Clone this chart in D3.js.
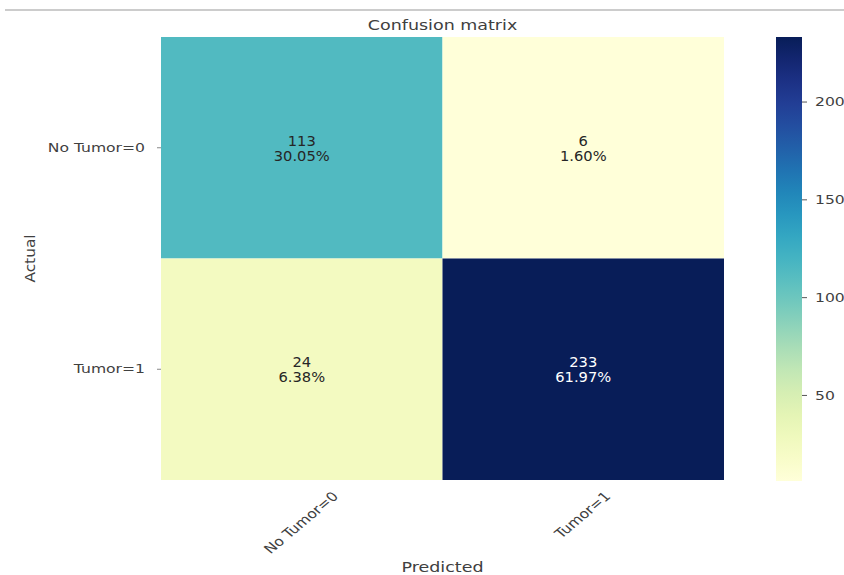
<!DOCTYPE html>
<html>
<head>
<meta charset="utf-8">
<script src="https://cdn.jsdelivr.net/npm/d3@7"></script>
<style>
  body { margin: 0; background: #fff; }
  svg { display: block; font-family: "DejaVu Sans", sans-serif; }
</style>
</head>
<body>
<div id="chart"></div>
<script>
const actualLabels = ["No Tumor=0", "Tumor=1"];
const predictedLabels = ["No Tumor=0", "Tumor=1"];
// rows = actual, cols = predicted
const counts = [
    [113, 6],
    [24, 233]
];
const percents = [
    ["30.05%", "1.60%"],
    ["6.38%", "61.97%"]
];
const colorbarTicks = [50, 100, 150, 200];

const W = 844, H = 575;
const plot = { left: 161, top: 37, right: 724, bottom: 480 };
const bar = { left: 776, right: 802, top: 37, bottom: 481 };
const stretch = 1.2; // the source picture is widened horizontally
const labelColor = "#404040";

const svg = d3.select("#chart").append("svg")
    .attr("width", W)
    .attr("height", H);

// thin line at top of screenshot
svg.append("line")
    .attr("x1", 5).attr("x2", W)
    .attr("y1", 10).attr("y2", 10)
    .attr("stroke", "#9a9a9a")
    .attr("stroke-width", 1.2);

const flat = counts.flat();
const vmin = d3.min(flat), vmax = d3.max(flat);
const color = d3.scaleSequential(d3.interpolateYlGnBu).domain([vmin, vmax]);

const x = d3.scaleBand().domain(predictedLabels).range([plot.left, plot.right]);
const y = d3.scaleBand().domain(actualLabels).range([plot.top, plot.bottom]);

const cells = [];
actualLabels.forEach((a, i) => {
    predictedLabels.forEach((p, j) => {
        cells.push({ a, p, v: counts[i][j], pct: percents[i][j] });
    });
});

svg.append("g").selectAll("rect")
    .data(cells)
    .enter().append("rect")
    .attr("x", d => x(d.p))
    .attr("y", d => y(d.a))
    .attr("width", x.bandwidth())
    .attr("height", y.bandwidth())
    .attr("fill", d => color(d.v));

const annot = svg.append("g").selectAll("text")
    .data(cells)
    .enter().append("text")
    .attr("text-anchor", "middle")
    .attr("font-size", 14)
    .attr("fill", d => (d.v - vmin) / (vmax - vmin) > 0.5 ? "#ffffff" : "#262626")
    .attr("transform", d => `translate(${x(d.p) + x.bandwidth() / 2},${y(d.a) + y.bandwidth() / 2}) scale(1.05,1)`);
annot.append("tspan").attr("x", 0).attr("y", -2).text(d => d.v);
annot.append("tspan").attr("x", 0).attr("y", 13).text(d => d.pct);

// y axis
const yAxis = svg.append("g")
    .attr("transform", `translate(${plot.left},0)`)
    .call(d3.axisLeft(y).tickSize(4).tickPadding(12));
yAxis.select(".domain").remove();
yAxis.selectAll("line").attr("stroke", "#888");
yAxis.selectAll(".tick text")
    .attr("font-size", 13)
    .attr("font-family", "DejaVu Sans, sans-serif")
    .attr("fill", labelColor)
    .attr("transform", function () {
        const tx = +d3.select(this).attr("x");
        return `translate(${tx},0) scale(${stretch},1)`;
    })
    .attr("x", 0);

// x axis labels, rotated and centred under each column
const xLab = svg.append("g").selectAll("text")
    .data(predictedLabels)
    .enter().append("text")
    .attr("text-anchor", "middle")
    .attr("dominant-baseline", "middle")
    .attr("font-size", 13)
    .attr("fill", labelColor)
    .text(d => d);
xLab.each(function (d) {
    const len = this.getComputedTextLength();
    const half = (len + 13) * Math.SQRT1_2 / 2;
    d3.select(this).attr("transform",
        `translate(${x(d) + x.bandwidth() / 2},${plot.bottom + 10 + half}) scale(${stretch},1) rotate(-45)`);
});

svg.append("text")
    .attr("transform", `translate(${(plot.left + plot.right) / 2},30) scale(1.25,1)`)
    .attr("text-anchor", "middle")
    .attr("font-size", 14)
    .attr("fill", labelColor)
    .text("Confusion matrix");

svg.append("text")
    .attr("transform", `translate(${(plot.left + plot.right) / 2},572) scale(1.25,1)`)
    .attr("text-anchor", "middle")
    .attr("font-size", 14)
    .attr("fill", labelColor)
    .text("Predicted");

svg.append("text")
    .attr("transform", `translate(35,${(plot.top + plot.bottom) / 2}) rotate(-90) scale(1.1,1)`)
    .attr("text-anchor", "middle")
    .attr("font-size", 14)
    .attr("fill", labelColor)
    .text("Actual");

// colour bar
const defs = svg.append("defs");
const grad = defs.append("linearGradient")
    .attr("id", "cbar")
    .attr("x1", 0).attr("y1", 1).attr("x2", 0).attr("y2", 0);
d3.range(0, 1.0001, 0.05).forEach(t => {
    grad.append("stop")
        .attr("offset", t)
        .attr("stop-color", d3.interpolateYlGnBu(t));
});
svg.append("rect")
    .attr("x", bar.left)
    .attr("y", bar.top)
    .attr("width", bar.right - bar.left)
    .attr("height", bar.bottom - bar.top)
    .attr("fill", "url(#cbar)");

const cy = d3.scaleLinear().domain([vmin, vmax]).range([bar.bottom, bar.top]);
const cAxis = svg.append("g")
    .attr("transform", `translate(${bar.right},0)`)
    .call(d3.axisRight(cy).tickValues(colorbarTicks).tickSize(5).tickPadding(8));
cAxis.select(".domain").remove();
cAxis.selectAll("line").attr("stroke", "#555");
cAxis.selectAll(".tick text")
    .attr("font-size", 13)
    .attr("font-family", "DejaVu Sans, sans-serif")
    .attr("fill", labelColor)
    .attr("transform", function () {
        const tx = +d3.select(this).attr("x");
        return `translate(${tx},0) scale(${stretch},1)`;
    })
    .attr("x", 0);
</script>
</body>
</html>
